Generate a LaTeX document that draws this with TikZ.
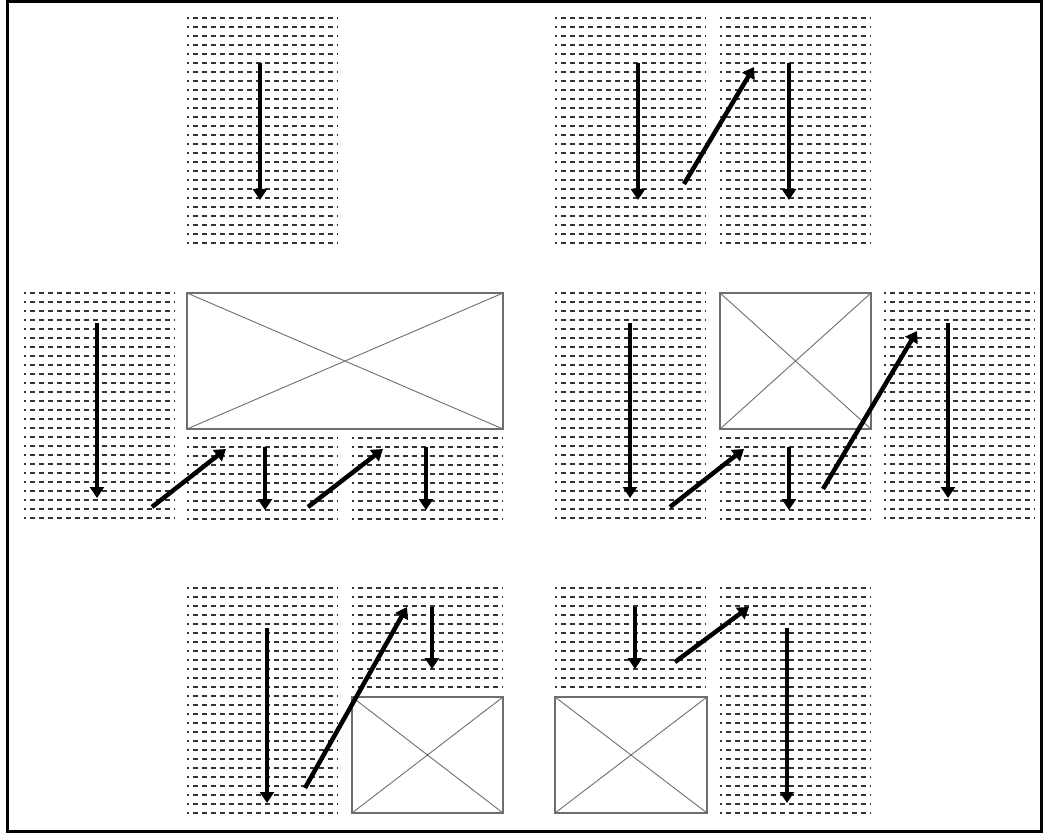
\documentclass[tikz,border=0pt]{standalone}
\usepackage{xcolor}
\usetikzlibrary{arrows.meta}
\definecolor{txtgray}{HTML}{333333}
\definecolor{imggray}{HTML}{6E6E6E}

% one column of text lines: left x, top y, number of lines
\newcommand{\textcol}[3]{%
  \foreach \k in {1,...,#3}
    \draw[txtline] (#1,{#2+9*(\k-1)}) -- ++(151,0);
}
% image placeholder: corners
\newcommand{\imgbox}[4]{%
  \draw[imgframe] (#1,#2) rectangle (#3,#4);
  \draw[imgcross] (#1,#2) -- (#3,#4) (#1,#4) -- (#3,#2);
}

\begin{document}
\begin{tikzpicture}[
  x=1pt, y=-1pt,
  txtline/.style={txtgray, line width=2.1pt, dash pattern=on 5pt off 4pt, dash phase=3.5pt},
  imgframe/.style={imggray, line width=1.4pt},
  imgcross/.style={imggray, line width=0.9pt},
  flow/.style={-{Triangle[length=11pt,width=14pt]}, line width=4.5pt, black}
]
  \useasboundingbox (0,0) rectangle (1049,834);
  \draw[line width=3pt] (7,2) rectangle (1041,831);

  % top left: single column
  \textcol{187}{18}{26}
  \coordinate (ta1) at (260,63);  \coordinate (tb1) at (260,200);
  \draw[flow] (ta1) -- (tb1);

  % top right: two columns
  \textcol{555}{18}{26}
  \textcol{720}{18}{26}
  \coordinate (ta2) at (638,63);  \coordinate (tb2) at (638,200);
  \coordinate (ta3) at (684,184); \coordinate (tb3) at (754,67);
  \coordinate (ta4) at (789,63);  \coordinate (tb4) at (789,200);
  \draw[flow] (ta2) -- (tb2);
  \draw[flow] (ta3) -- (tb3);
  \draw[flow] (ta4) -- (tb4);

  % middle left: column, wide image, two short columns
  \textcol{24}{293}{26}
  \imgbox{187}{293}{503}{429}
  \textcol{187}{438}{10}
  \textcol{352}{438}{10}
  \coordinate (ma1) at (97,323);  \coordinate (mb1) at (97,498);
  \coordinate (ma2) at (152,507); \coordinate (mb2) at (226,449);
  \coordinate (ma3) at (265,447); \coordinate (mb3) at (265,510);
  \coordinate (ma4) at (308,507); \coordinate (mb4) at (383,449);
  \coordinate (ma5) at (426,447); \coordinate (mb5) at (426,510);
  \draw[flow] (ma1) -- (mb1);
  \draw[flow] (ma2) -- (mb2);
  \draw[flow] (ma3) -- (mb3);
  \draw[flow] (ma4) -- (mb4);
  \draw[flow] (ma5) -- (mb5);

  % middle right: column, image over short column, column
  \textcol{555}{293}{26}
  \imgbox{720}{293}{871}{429}
  \textcol{720}{438}{10}
  \textcol{884}{293}{26}
  \coordinate (na1) at (630,323); \coordinate (nb1) at (630,498);
  \coordinate (na2) at (670,507); \coordinate (nb2) at (744,449);
  \coordinate (na3) at (789,447); \coordinate (nb3) at (789,510);
  \coordinate (na4) at (823,489); \coordinate (nb4) at (917,331);
  \coordinate (na5) at (948,323); \coordinate (nb5) at (948,498);
  \draw[flow] (na1) -- (nb1);
  \draw[flow] (na2) -- (nb2);
  \draw[flow] (na3) -- (nb3);
  \draw[flow] (na4) -- (nb4);
  \draw[flow] (na5) -- (nb5);

  % bottom left: column, short column over image
  \textcol{187}{588}{26}
  \textcol{352}{588}{12}
  \imgbox{352}{697}{503}{813}
  \coordinate (ba1) at (267,628); \coordinate (bb1) at (267,803);
  \coordinate (ba2) at (305,788); \coordinate (bb2) at (407,607);
  \coordinate (ba3) at (432,607); \coordinate (bb3) at (432,669);
  \draw[flow] (ba1) -- (bb1);
  \draw[flow] (ba2) -- (bb2);
  \draw[flow] (ba3) -- (bb3);

  % bottom right: short column over image, column
  \textcol{555}{588}{12}
  \imgbox{555}{697}{707}{813}
  \textcol{720}{588}{26}
  \coordinate (ca1) at (635,607); \coordinate (cb1) at (635,669);
  \coordinate (ca2) at (675,662); \coordinate (cb2) at (749,607);
  \coordinate (ca3) at (787,628); \coordinate (cb3) at (787,803);
  \draw[flow] (ca1) -- (cb1);
  \draw[flow] (ca2) -- (cb2);
  \draw[flow] (ca3) -- (cb3);
\end{tikzpicture}
\end{document}
